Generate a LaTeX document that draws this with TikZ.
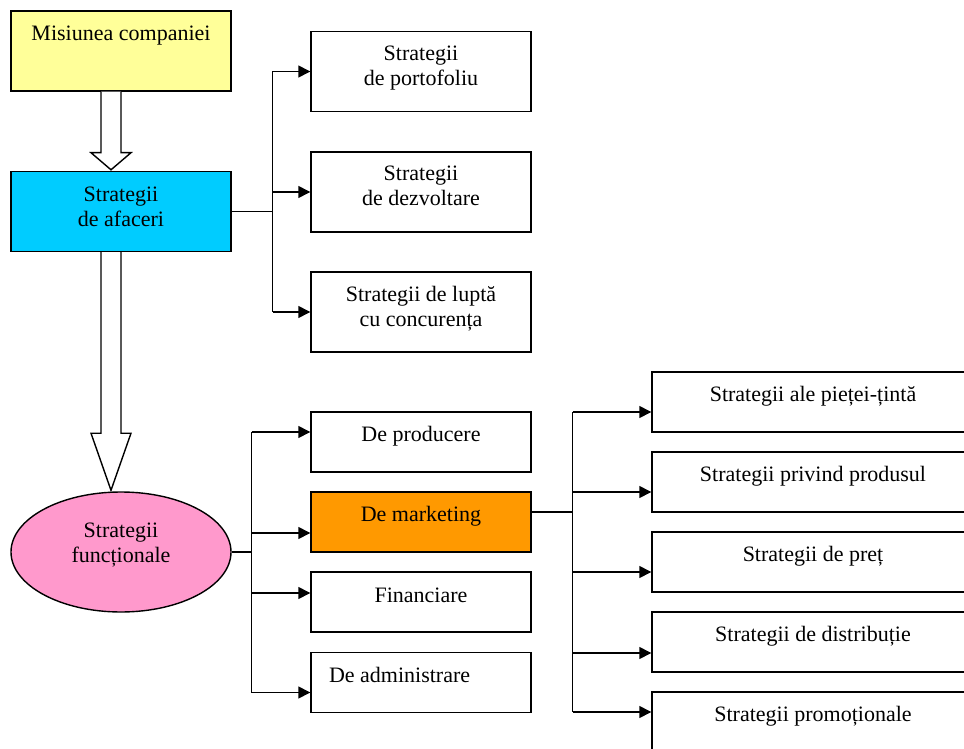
\documentclass[tikz,border=0pt]{standalone}
\usepackage{fontspec}
\setmainfont{Liberation Serif}
\usetikzlibrary{arrows.meta,shapes.geometric,calc}
\definecolor{misfill}{HTML}{FFFF99}
\definecolor{afafill}{HTML}{00CCFF}
\definecolor{funcfill}{HTML}{FF99CC}
\definecolor{mktfill}{HTML}{FF9900}
\begin{document}
\begin{tikzpicture}[x=0.5pt,y=-0.5pt,line width=0.7pt,
  box/.style={draw, rectangle, minimum width=110pt, minimum height=30pt, inner sep=0pt},
  tall/.style={box, minimum height=40pt},
  wide/.style={box, minimum width=161pt},
  % anchored on the baseline of the last line
  lbl/.style={font=\fontsize{11pt}{12.5pt}\selectfont, align=center, inner sep=0pt, anchor=base},
  arr/.style={-{Triangle[length=6pt,width=6pt]}},
  hollow/.style={draw, fill=white, line join=miter}]
\useasboundingbox (0,0) rectangle (964,749);
\clip (0,0) rectangle (964,749);

% left column
\node[tall, fill=misfill] (mis) at (121,51) {};
\node[tall, fill=afafill] (afa) at (121,211.5) {};
\node[draw, ellipse, fill=funcfill, minimum width=110pt, minimum height=60pt, inner sep=0pt] (func) at (121,552) {};

% business strategies
\node[tall] (port) at (421,71.5) {};
\node[tall] (dezv) at (421,192) {};
\node[tall] (lupta) at (421,312) {};

% functional strategies
\node[box] (prod) at (421,442) {};
\node[box, fill=mktfill] (mkt) at (421,522) {};
\node[box] (fin) at (421,602) {};
\node[box] (adm) at (421,682.5) {};

% marketing strategies
\node[wide] (r1) at (813,402) {};
\node[wide] (r2) at (813,482) {};
\node[wide] (r3) at (813,562) {};
\node[wide] (r4) at (813,642) {};
\node[wide] (r5) at (813,722) {};

% hollow block arrows
\coordinate (h1) at ($(mis.south)+(-10,0)$);
\draw[hollow] ($(h1)+(-10,0)$) -- ($(h1)+(-10,61)$) -- ($(h1)+(-20,61)$)
  -- ($(afa.north)+(-10,-1)$) -- ($(h1)+(20,61)$) -- ($(h1)+(10,61)$) -- ($(h1)+(10,0)$);
\coordinate (h2) at ($(afa.south)+(-10,0)$);
\draw[hollow] ($(h2)+(-10,0)$) -- ($(h2)+(-10,181)$) -- ($(h2)+(-20,181)$)
  -- ($(func.north)+(-10,-1)$) -- ($(h2)+(20,181)$) -- ($(h2)+(10,181)$) -- ($(h2)+(10,0)$);

% labels
\node[lbl] (tmis) at ($(mis.north)+(0,30.5)$) {Misiunea companiei};
\node[lbl] (tafa) at ($(afa.north)+(0,55.5)$) {Strategii\\de afaceri};
\node[lbl] (tfunc) at ($(func.center)+(0,10.5)$) {Strategii\\funcționale};
\node[lbl] (tport) at ($(port.north)+(0,54.5)$) {Strategii\\de portofoliu};
\node[lbl] (tdezv) at ($(dezv.north)+(0,54.5)$) {Strategii\\de dezvoltare};
\node[lbl] (tlupta) at ($(lupta.north)+(0,54.7)$) {Strategii de luptă\\cu concurența};
\node[lbl] (tprod) at ($(prod.north)+(0,29.7)$) {De producere};
\node[lbl] (tmkt) at ($(mkt.north)+(0,29.7)$) {De marketing};
\node[lbl] (tfin) at ($(fin.north)+(0,30.7)$) {Financiare};
\node[lbl, anchor=base west] (tadm) at ($(adm.north west)+(18,30.2)$) {De administrare};
\node[lbl] (tr1) at ($(r1.north)+(0,29.7)$) {Strategii ale pieței-țintă};
\node[lbl] (tr2) at ($(r2.north)+(0,29.7)$) {Strategii privind produsul};
\node[lbl] (tr3) at ($(r3.north)+(0,29.7)$) {Strategii de preț};
\node[lbl] (tr4) at ($(r4.north)+(0,29.7)$) {Strategii de distribuție};
\node[lbl] (tr5) at ($(r5.north)+(0,29.7)$) {Strategii promoționale};

% business strategies bus
\coordinate (ba) at ($(afa.east)+(41,0)$);
\draw (afa.east) -- (ba);
\draw (ba |- port.west) -- (ba |- lupta.west);
\draw[arr] (ba |- port.west) -- (port.west);
\draw[arr] (ba |- dezv.west) -- (dezv.west);
\draw[arr] (ba |- lupta.west) -- (lupta.west);

% functional strategies bus
\coordinate (bf) at ($(func.east)+(20,0)$);
\coordinate (p1) at ($(prod.west)+(0,-10)$);
\coordinate (p2) at ($(mkt.west)+(0,11)$);
\coordinate (p3) at ($(fin.west)+(0,-9)$);
\coordinate (p4) at ($(adm.west)+(0,10)$);
\draw (func.east) -- (bf);
\draw (bf |- p1) -- (bf |- p4);
\draw[arr] (bf |- p1) -- (p1);
\draw[arr] (bf |- p2) -- (p2);
\draw[arr] (bf |- p3) -- (p3);
\draw[arr] (bf |- p4) -- (p4);

% marketing strategies bus
\coordinate (m0) at ($(mkt.east)+(0,-10)$);
\coordinate (bm) at ($(m0)+(41,0)$);
\coordinate (q1) at ($(r1.west)+(0,10)$);
\coordinate (q2) at ($(r2.west)+(0,10)$);
\coordinate (q3) at ($(r3.west)+(0,10)$);
\coordinate (q4) at ($(r4.west)+(0,11)$);
\coordinate (q5) at ($(r5.west)+(0,-10)$);
\draw (m0) -- (bm);
\draw (bm |- q1) -- (bm |- q5);
\draw[arr] (bm |- q1) -- (q1);
\draw[arr] (bm |- q2) -- (q2);
\draw[arr] (bm |- q3) -- (q3);
\draw[arr] (bm |- q4) -- (q4);
\draw[arr] (bm |- q5) -- (q5);
\end{tikzpicture}
\end{document}
